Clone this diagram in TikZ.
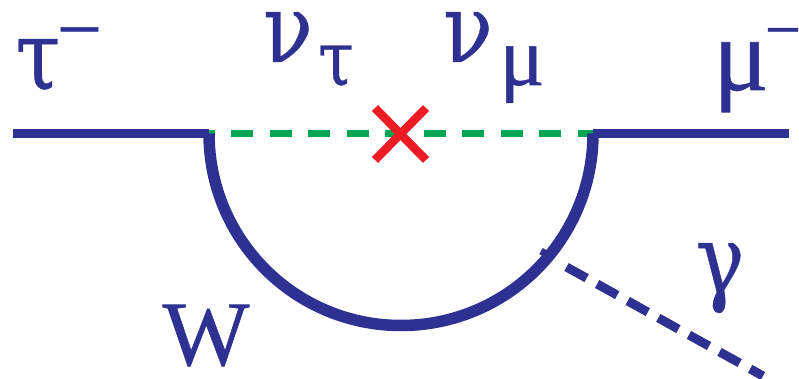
\documentclass[tikz,border=0pt]{standalone}
\usepackage{fontspec}
\setmainfont{Liberation Serif}
\newfontfamily\gk[FakeStretch=0.85,FakeBold=0.4]{DejaVu Serif}
\newfontfamily\lb[FakeBold=0.6]{Liberation Serif}
\definecolor{fermion}{RGB}{46,49,146}
\definecolor{nugreen}{RGB}{0,166,81}
\definecolor{xred}{RGB}{237,28,36}
\tikzset{
  lbl/.style={text=fermion,inner sep=0pt,anchor=base,font=\fontsize{#1}{#1}\selectfont},
  lepton/.style={draw=fermion,line width=8.5pt},
  wloop/.style={draw=fermion,line width=11.5pt},
  neutrino/.style={draw=nugreen,line width=7pt,dash pattern=on 22pt off 16.5pt,dash phase=16.5pt},
  photon/.style={draw=fermion,line width=9pt,dash pattern=on 23pt off 12pt},
  mass/.style={draw=xred,line width=8.5pt}
}
\begin{document}
\begin{tikzpicture}[x=1pt,y=-1pt]
\useasboundingbox (0,0) rectangle (799,379);
\coordinate (lin) at (13,133.5);
\coordinate (v1) at (209,133.5);
\coordinate (v2) at (593,133.5);
\coordinate (lout) at (789,133.5);
\coordinate (m) at (401,133.5);
\coordinate (gs) at (566.5,267);
\coordinate (ge) at (763,376);
\coordinate (stubA) at (541,251);
\coordinate (stubB) at (553,258);
\coordinate (xa) at (375,108);
\coordinate (xb) at (426,160);
\coordinate (xc) at (426,108);
\coordinate (xd) at (375,160);
\draw[neutrino] (v1) -- (v2);
\draw[lepton] (lin) -- (v1);
\draw[lepton] (v2) -- (lout);
\draw[wloop] (v1) arc[start angle=180,end angle=360,radius=192pt];
\draw[draw=fermion,line width=7pt] (stubA) -- (stubB);
\draw[photon] (gs) -- (ge);
\draw[mass] (xa) -- (xb);
\draw[mass] (xc) -- (xd);
\node[lbl=96] (tau) at (38,89) {\gk τ};
\node[lbl=80] (taum) at (79.5,56) {\lb −};
\node[lbl=96] (nut) at (288,62) {\gk ν};
\node[lbl=76] (nuts) at (336,85) {\gk τ};
\node[lbl=96] (num) at (468,62) {\gk ν};
\node[lbl=84] (mus) at (522,85) {\lb μ};
\node[lbl=104] (mu) at (741,90) {\lb μ};
\node[lbl=64] (mum) at (783,51) {\lb −};
\node[lbl=92] (W) at (206,365) {\lb W};
\node[lbl=96] (gam) at (720,293) {\gk γ};
\end{tikzpicture}
\end{document}
